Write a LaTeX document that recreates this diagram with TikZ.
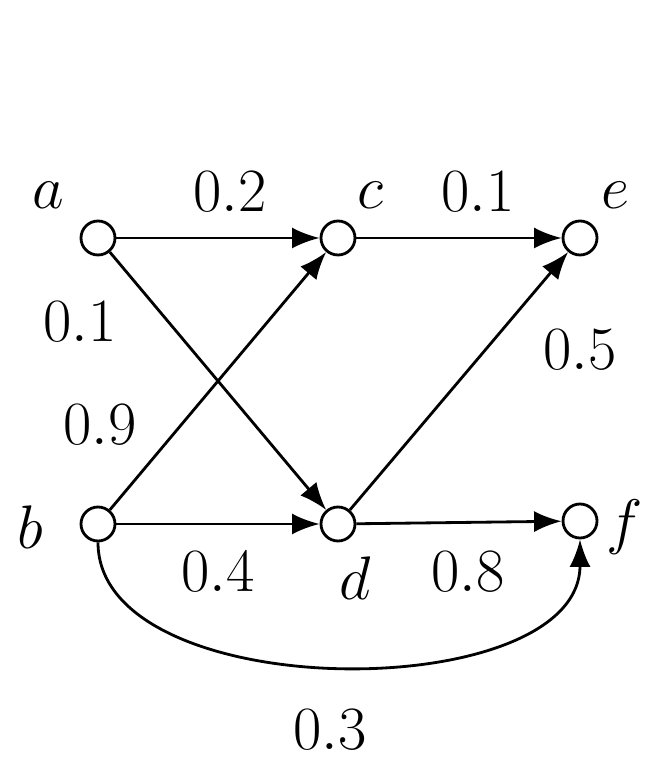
\documentclass[tikz,border=0pt]{standalone}
\usepackage{fix-cm}
\usetikzlibrary{arrows.meta}
\begin{document}
\begin{tikzpicture}[
  vtx/.style={circle,draw,line width=1.6pt,minimum size=0.68cm,inner sep=0pt,fill=white},
  edge/.style={line width=1.6pt,-{Latex[length=0.55cm,width=0.42cm]}},
  lbl/.style={font=\fontsize{35}{40}\selectfont,inner sep=0pt}]
\useasboundingbox (0,0) rectangle (13.26,15.34);
\node[vtx] (a) at (1.96,10.58) {};
\node[vtx] (c) at (6.76,10.58) {};
\node[vtx] (e) at (11.6,10.58) {};
\node[vtx] (b) at (1.96,4.86) {};
\node[vtx] (d) at (6.76,4.86) {};
\node[vtx] (f) at (11.6,4.92) {};
\node[lbl] (la) at (0.96,11.44) {$a$};
\node[lbl] (lc) at (7.4,11.44) {$c$};
\node[lbl] (le) at (12.3,11.44) {$e$};
\node[lbl] (lb) at (0.6,4.8) {$b$};
\node[lbl] (ld) at (7.1,3.78) {$d$};
\node[lbl] (lf) at (12.5,4.8) {$f$};
\draw[edge] (a) -- (c);
\draw[edge] (c) -- (e);
\draw[edge] (a) -- (d);
\draw[edge] (b) -- (c);
\draw[edge] (b) -- (d);
\draw[edge] (d) -- (e);
\draw[edge] (d) -- (f);
\draw[edge] (b.south) .. controls (1.96,1.2) and (11.6,1.2) .. (f.south);
\node[lbl] (w1) at (4.6,11.5) {$0.2$};
\node[lbl] (w2) at (9.56,11.5) {$0.1$};
\node[lbl] (w3) at (1.6,8.9) {$0.1$};
\node[lbl] (w4) at (2.0,6.84) {$0.9$};
\node[lbl] (w5) at (11.6,8.34) {$0.5$};
\node[lbl] (w6) at (4.36,3.9) {$0.4$};
\node[lbl] (w7) at (9.36,3.9) {$0.8$};
\node[lbl] (w8) at (6.6,0.74) {$0.3$};
\end{tikzpicture}
\end{document}
